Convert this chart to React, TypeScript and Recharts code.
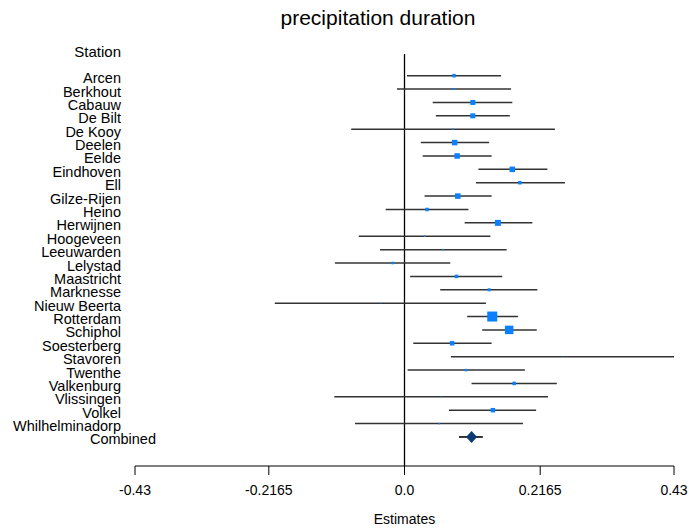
import {
  ScatterChart,
  Scatter,
  XAxis,
  YAxis,
  ErrorBar,
  ReferenceLine,
} from 'recharts';

const stations = [
  'Arcen', 'Berkhout', 'Cabauw', 'De Bilt', 'De Kooy', 'Deelen', 'Eelde', 'Eindhoven', 'Ell',
  'Gilze-Rijen', 'Heino', 'Herwijnen', 'Hoogeveen', 'Leeuwarden', 'Lelystad', 'Maastricht',
  'Marknesse', 'Nieuw Beerta', 'Rotterdam', 'Schiphol', 'Soesterberg', 'Stavoren', 'Twenthe',
  'Valkenburg', 'Vlissingen', 'Volkel', 'Whilhelminadorp',
];
const estimates = [
  0.079, 0.078, 0.109, 0.109, 0.077, 0.080, 0.084, 0.172, 0.184, 0.085, 0.036, 0.149, 0.032,
  0.062, -0.019, 0.083, 0.135, -0.038, 0.140, 0.167, 0.076, 0.253, 0.098, 0.175, 0.058, 0.141, 0.055,
];
const lower = [
  0.004, -0.012, 0.045, 0.050, -0.085, 0.026, 0.029, 0.118, 0.114, 0.032, -0.030, 0.096, -0.073,
  -0.039, -0.111, 0.009, 0.057, -0.207, 0.100, 0.124, 0.014, 0.074, 0.005, 0.107, -0.112, 0.071, -0.079,
];
const upper = [
  0.154, 0.170, 0.172, 0.168, 0.240, 0.135, 0.139, 0.228, 0.256, 0.139, 0.102, 0.204, 0.137,
  0.163, 0.073, 0.156, 0.212, 0.130, 0.181, 0.211, 0.139, 0.430, 0.192, 0.243, 0.229, 0.210, 0.189,
];
// marker size (weight) per station
const weights = [
  3.5, 2, 5, 5, 1.5, 5.5, 5.5, 5.5, 3.5, 5.5, 3.5, 6, 1.5, 1.5, 2.5, 3.5, 3, 1, 10, 8.5, 4.5, 1,
  2.5, 3.5, 1, 4.5, 1.5,
];
const combined = { label: 'Combined', est: 0.107, lo: 0.087, hi: 0.125 };
const xTicks = [-0.43, -0.2165, 0, 0.2165, 0.43];

const FONT = '"Liberation Sans", Arial, sans-serif';

const rows = stations.map((name, i) => ({
  name,
  row: i,
  est: estimates[i],
  err: [estimates[i] - lower[i], upper[i] - estimates[i]],
  size: weights[i],
}));
const combinedRow = [
  {
    name: combined.label,
    row: stations.length,
    est: combined.est,
    err: [combined.est - combined.lo, combined.hi - combined.est],
  },
];
const labels = [...stations, combined.label];

const Square = (props: any) => {
  const { cx, cy, payload } = props;
  const s = payload.size;
  return <rect x={cx - s / 2} y={cy - s / 2} width={s} height={s} fill="#0a80ff" />;
};

const Diamond = (props: any) => {
  const { cx, cy } = props;
  return (
    <polygon
      points={`${cx - 5.5},${cy} ${cx},${cy - 6} ${cx + 5.5},${cy} ${cx},${cy + 6}`}
      fill="#0b3a73"
    />
  );
};

const RowTick = (props: any) => {
  const { y, payload } = props;
  const i = payload.value;
  const isCombined = i === stations.length;
  return (
    <text
      x={isCombined ? 156 : 121}
      y={y + 7.5}
      textAnchor="end"
      fontSize={14.5}
      fontFamily={FONT}
      fill="#000"
    >
      {labels[i]}
    </text>
  );
};

export default function App() {
  return (
    <div style={{ position: 'absolute', left: 0, top: 0, width: 689, height: 531, background: '#fff' }}>
      <ScatterChart width={689} height={531} margin={{ top: 54, right: 15, bottom: 5, left: 5 }}>
        <XAxis
          type="number"
          dataKey="est"
          domain={[-0.43, 0.43]}
          ticks={xTicks}
          allowDataOverflow
          interval={0}
          height={60}
          tickSize={9}
          tickMargin={10}
          stroke="#000"
          tickFormatter={(v: number) => (v === 0 ? '0.0' : String(v))}
          tick={{ fill: '#000', fontSize: 14, fontFamily: FONT }}
          label={{
            value: 'Estimates',
            position: 'insideBottom',
            offset: 2,
            fill: '#000',
            fontSize: 14,
            fontFamily: FONT,
          }}
        />
        <YAxis
          type="number"
          dataKey="row"
          domain={[-1.62, 29.17]}
          reversed
          allowDataOverflow
          ticks={labels.map((_, i) => i)}
          interval={0}
          width={130}
          axisLine={false}
          tickLine={false}
          tick={<RowTick />}
        />
        <ReferenceLine x={0} stroke="#000" strokeWidth={1.3} />
        <Scatter data={rows} shape={<Square />} isAnimationActive={false}>
          <ErrorBar dataKey="err" direction="x" width={0} stroke="#333" strokeWidth={1.5} />
        </Scatter>
        <Scatter data={combinedRow} shape={<Diamond />} isAnimationActive={false}>
          <ErrorBar dataKey="err" direction="x" width={0} stroke="#333" strokeWidth={2} />
        </Scatter>
      </ScatterChart>
      <svg
        width={689}
        height={531}
        style={{ position: 'absolute', left: 0, top: 0, pointerEvents: 'none' }}
      >
        <text x={378} y={25} textAnchor="middle" fontSize={21} fontFamily={FONT} fill="#000">
          precipitation duration
        </text>
        <text x={121} y={57} textAnchor="end" fontSize={15} fontFamily={FONT} fill="#000">
          Station
        </text>
      </svg>
    </div>
  );
}
